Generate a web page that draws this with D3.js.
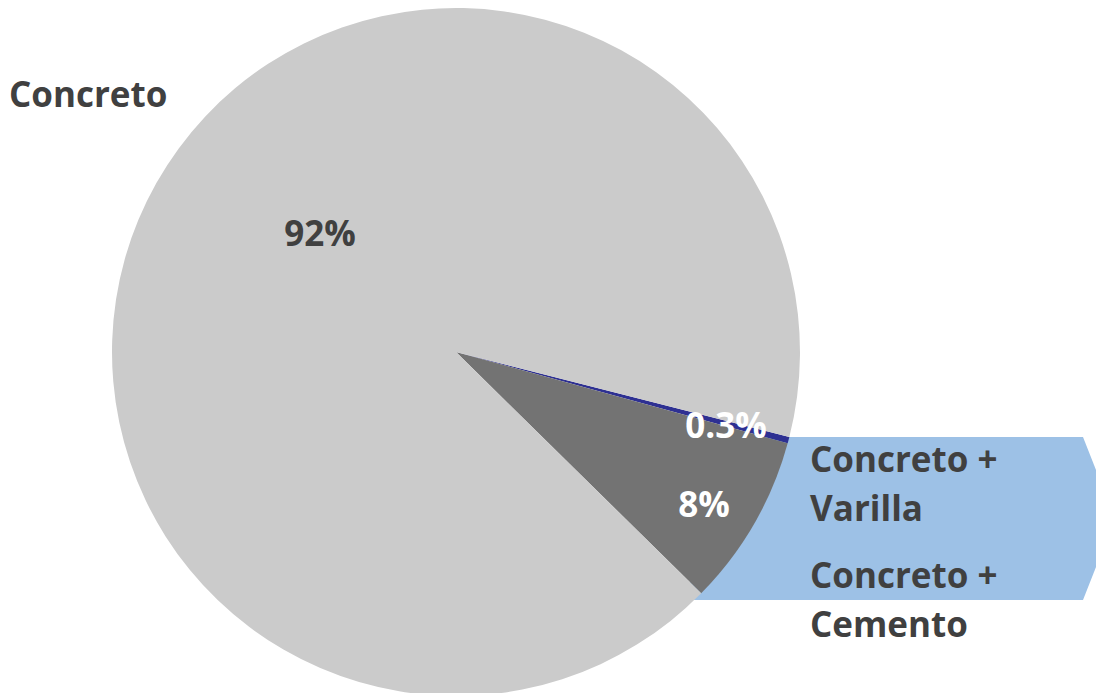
<!DOCTYPE html>
<html>
<head>
<meta charset="utf-8">
<script src="https://cdn.jsdelivr.net/npm/d3@7"></script>
<style>
  html, body { margin: 0; padding: 0; background: #fff; }
  svg text { font-family: "Open Sans", "Noto Sans", sans-serif; font-weight: 700; }
</style>
</head>
<body>
<svg id="chart" width="1096" height="693"></svg>
<script>
// slice order is clockwise from the blue sliver
const categories = ['Concreto + Varilla', 'Concreto + Cemento', 'Concreto'];
const values = [0.3, 8.1, 91.6];
const pctLabels = ['0.3%', '8%', '92%'];
const colors = ['#2e3092', '#737373', '#cbcbcb'];

const width = 1096, height = 693;
const cx = 456, cy = 352, radius = 344;
const startDeg = 104.3;
const fontSize = 35;

const svg = d3.select('#chart');

// callout box behind the two small-slice labels
const box = { x0: 690, x1: 1083, tip: 1115, y0: 437, y1: 600 };
svg.append('path')
  .attr('d', d3.line()([
    [box.x0, box.y0], [box.x1, box.y0], [box.tip, (box.y0 + box.y1) / 2],
    [box.x1, box.y1], [box.x0, box.y1]
  ]) + 'Z')
  .attr('fill', '#9dc1e6');

const pie = d3.pie()
  .sort(null)
  .startAngle(startDeg * Math.PI / 180)
  .endAngle(startDeg * Math.PI / 180 + 2 * Math.PI);

const arc = d3.arc().innerRadius(0).outerRadius(radius);

const g = svg.append('g').attr('transform', `translate(${cx},${cy})`);
const arcs = pie(values);

g.selectAll('path.slice')
  .data(arcs)
  .join('path')
  .attr('class', 'slice')
  .attr('d', arc)
  .attr('fill', (d, i) => colors[i]);

// percentage labels
const pctPos = [[726, 438], [704, 517], [320, 246]];
const pctFill = ['#ffffff', '#ffffff', '#404040'];
svg.selectAll('text.pct')
  .data(pctLabels)
  .join('text')
  .attr('class', 'pct')
  .attr('x', (d, i) => pctPos[i][0])
  .attr('y', (d, i) => pctPos[i][1])
  .attr('text-anchor', 'middle')
  .attr('font-size', fontSize)
  .attr('fill', (d, i) => pctFill[i])
  .text(d => d);

// category labels
const catLines = [['Concreto +', 'Varilla'], ['Concreto +', 'Cemento'], ['Concreto']];
const catPos = [[810, 472], [810, 588], [9, 107]];
catLines.forEach((lines, i) => {
  const t = svg.append('text')
    .attr('x', catPos[i][0])
    .attr('y', catPos[i][1])
    .attr('font-size', fontSize)
    .attr('fill', '#404040');
  lines.forEach((l, j) => {
    t.append('tspan')
      .attr('x', catPos[i][0])
      .attr('dy', j === 0 ? 0 : 49)
      .text(l);
  });
});
</script>
</body>
</html>
